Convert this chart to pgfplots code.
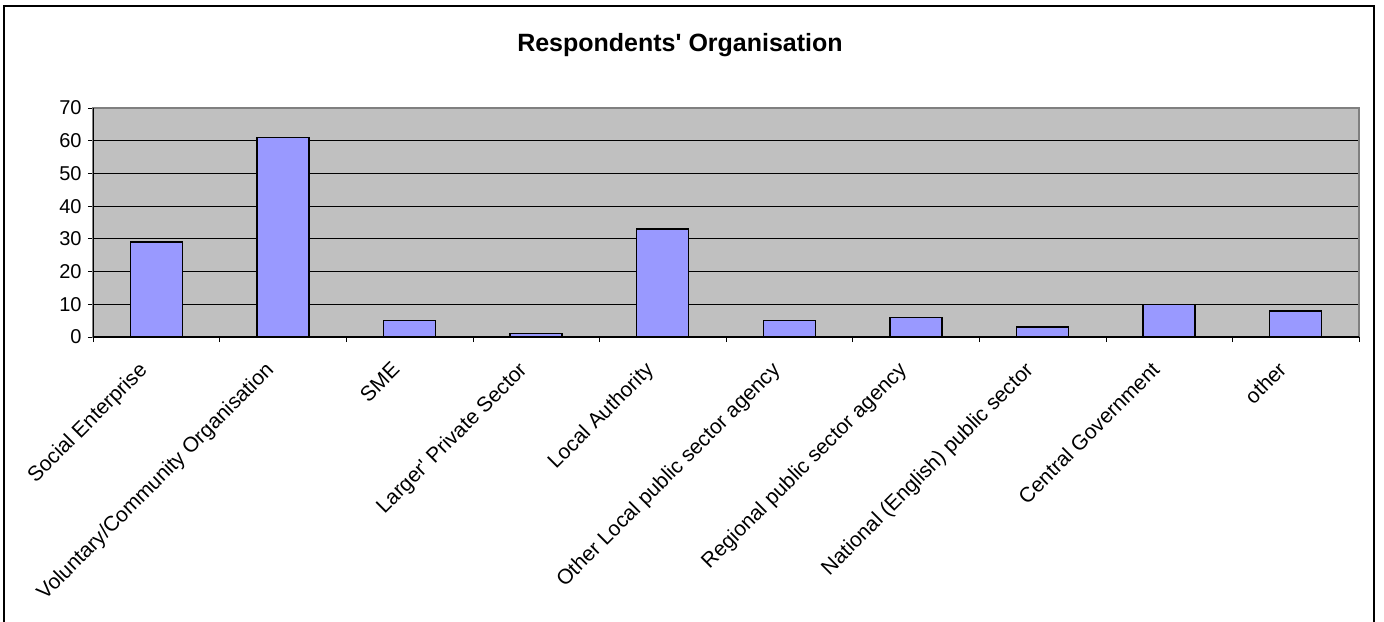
\documentclass[border=0pt]{standalone}
\usepackage{fontspec}
\setmainfont{Liberation Sans}
\usepackage{pgfplots}
\pgfplotsset{compat=1.18}
\definecolor{barblue}{HTML}{9999FF}
\definecolor{plotgray}{HTML}{C0C0C0}
\definecolor{edgegray}{HTML}{808080}
\begin{document}
\begin{tikzpicture}[x=1pt,y=1pt]
\clip (-46.5,-142) rectangle (645.5,168.5);
\draw[line width=0.7pt] (-44.5,-160) -- (-44.5,165.5) -- (640.5,165.5) -- (640.5,-160);
\node[font=\fontsize{12.5}{14}\selectfont\bfseries] at (293.5,146) {Respondents\textquotesingle{} Organisation};
\begin{axis}[
  at={(0,0)}, anchor=south west,
  scale only axis, width=633pt, height=114.5pt,
  ybar, bar width=26pt,
  xmin=-0.5, xmax=9.5, ymin=0, ymax=70,
  ytick={0,10,...,70},
  xtick={0,...,9},
  xticklabels={Social Enterprise, Voluntary/Community Organisation, SME, Larger\textquotesingle{} Private Sector, Local Authority, Other Local public sector agency, Regional public sector agency, National (English) public sector, Central Government, other},
  extra x ticks={-0.5,0.5,...,9.5},
  extra x tick labels={},
  extra x tick style={xtick style={draw=black}, grid=none},
  xtick style={draw=none},
  ytick style={draw=black, line width=0.5pt},
  xtick pos=bottom, ytick pos=left,
  tick align=outside,
  major tick length=2.5pt,
  /pgf/number format/assume math mode=true,
  ymajorgrids,
  grid style={black, line width=0.5pt},
  axis background/.style={fill=plotgray},
  axis line style={edgegray, line width=0.6pt},
  yticklabel style={font=\fontsize{10}{12}\selectfont, inner sep=0pt, xshift=-3pt},
  xticklabel style={font=\fontsize{10.5}{12}\selectfont, xshift=-9.5pt, yshift=-9pt, rotate=45, anchor=north east, inner sep=0pt},
]
\addplot[fill=barblue, draw=black, line width=0.7pt] coordinates {
 (0,29) (1,61) (2,5) (3,1) (4,33) (5,5) (6,6) (7,3) (8,10) (9,8)
};
\draw[black, line width=0.6pt] (rel axis cs:0,1) -- (rel axis cs:0,0) -- (rel axis cs:1,0);
\end{axis}
\end{tikzpicture}
\end{document}
